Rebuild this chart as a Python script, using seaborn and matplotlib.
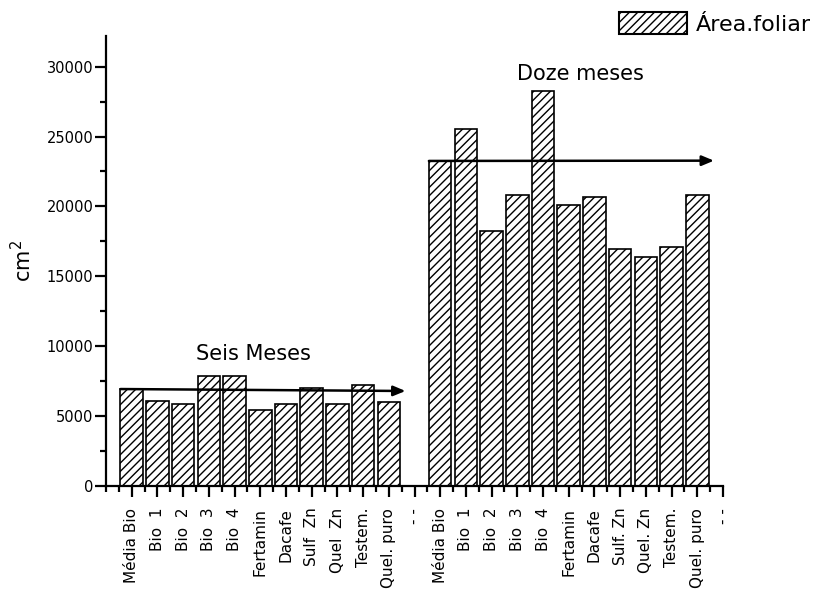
import numpy as np
import pandas as pd
import matplotlib
matplotlib.use("Agg")
import matplotlib.pyplot as plt
import matplotlib.patches as mpatches
from matplotlib.ticker import MultipleLocator, FixedLocator
import seaborn as sns

# ---- data ----
tick_labels = ["Média Bio", "Bio  1", "Bio  2", "Bio  3", "Bio  4", "Fertamin", "Dacafe",
               "Sulf  Zn", "Quel  Zn", "Testem.", "Quel. puro", "- -",
               "Média Bio", "Bio  1", "Bio  2", "Bio  3", "Bio  4", "Fertamin", "Dacafe",
               "Sulf. Zn", "Quel. Zn", "Testem.", "Quel. puro", "- -"]
seis_meses = [6910, 6080, 5810, 7810, 7810, 5380, 5810, 6950, 5810, 7230, 5950]
doze_meses = [23230, 25520, 18240, 20810, 28250, 20100, 20670, 16950, 16380, 17110, 20810]
series_label = "Área.foliar"
group_titles = ["Seis Meses", "Doze meses"]
# trend arrows: (x_start, y_start, x_end, y_end)
trend_seis = (0.565, 6910, 11.65, 6770)
trend_doze = (12.56, 23250, 23.65, 23270)

values = seis_meses + [np.nan] + doze_meses + [np.nan]
df = pd.DataFrame({"pos": np.arange(1, len(values) + 1), "valor": values}).dropna()

sns.set_style("ticks")
plt.rcParams["font.family"] = ["DejaVu Sans"]
plt.rcParams["hatch.linewidth"] = 1.0
plt.rcParams["hatch.color"] = "black"
for k in ["text.color", "axes.labelcolor", "xtick.color", "ytick.color", "axes.edgecolor"]:
    plt.rcParams[k] = "black"

fig = plt.figure(figsize=(8.33, 5.99), dpi=100)
ax = fig.add_axes([106 / 833, 113.5 / 599, 617 / 833, 449.5 / 599])

sns.barplot(data=df, x="pos", y="valor", native_scale=True, width=0.876,
            color="white", edgecolor="black", linewidth=1.2, errorbar=None, ax=ax)
for p in ax.patches:
    p.set_facecolor("white")
    p.set_hatch("////")
    p.set_edgecolor("black")

ax.set_xlim(0, 24)
ax.set_ylim(0, 32200)

for sp in ["top", "right"]:
    ax.spines[sp].set_visible(False)
for sp in ["left", "bottom"]:
    ax.spines[sp].set_linewidth(1.6)
    ax.spines[sp].set_color("black")

ax.yaxis.set_major_locator(MultipleLocator(5000))
ax.yaxis.set_minor_locator(MultipleLocator(2500))
ax.set_xticks(np.arange(1, 25))
ax.set_xticklabels(tick_labels, rotation=90, fontsize=11)
ax.xaxis.set_minor_locator(FixedLocator([0] + list(np.arange(0.5, 24, 1.0))))
ax.tick_params(axis="both", which="major", direction="out", length=8, width=1.6, color="black")
ax.tick_params(axis="both", which="minor", direction="out", length=4.5, width=1.6, color="black")
ax.tick_params(axis="y", labelsize=10.5, pad=1)
ax.tick_params(axis="x", pad=8)
ax.set_xlabel("")
ax.set_ylabel("cm$^2$", fontsize=15, labelpad=8)

# arrows
for (x0, y0, x1, y1) in [trend_seis, trend_doze]:
    ax.annotate("", xy=(x1, y1), xytext=(x0, y0),
                arrowprops=dict(arrowstyle="-|>,head_length=0.6,head_width=0.25",
                                lw=1.8, color="black", mutation_scale=12,
                                shrinkA=0, shrinkB=0))

ax.text(5.72, 9420, group_titles[0], fontsize=15, ha="center", va="center")
ax.text(18.45, 29480, group_titles[1], fontsize=15, ha="center", va="center")

handle = mpatches.Patch(facecolor="white", edgecolor="black", hatch="////",
                        linewidth=1.5, label=series_label)
fig.legend(handles=[handle], loc="upper left", bbox_to_anchor=(619 / 833, 1 - 12 / 599),
           frameon=False, fontsize=16, handlelength=3.05, handleheight=1.15,
           handletextpad=0.42, borderpad=0, borderaxespad=0)

fig.savefig("out.png", dpi=100)
